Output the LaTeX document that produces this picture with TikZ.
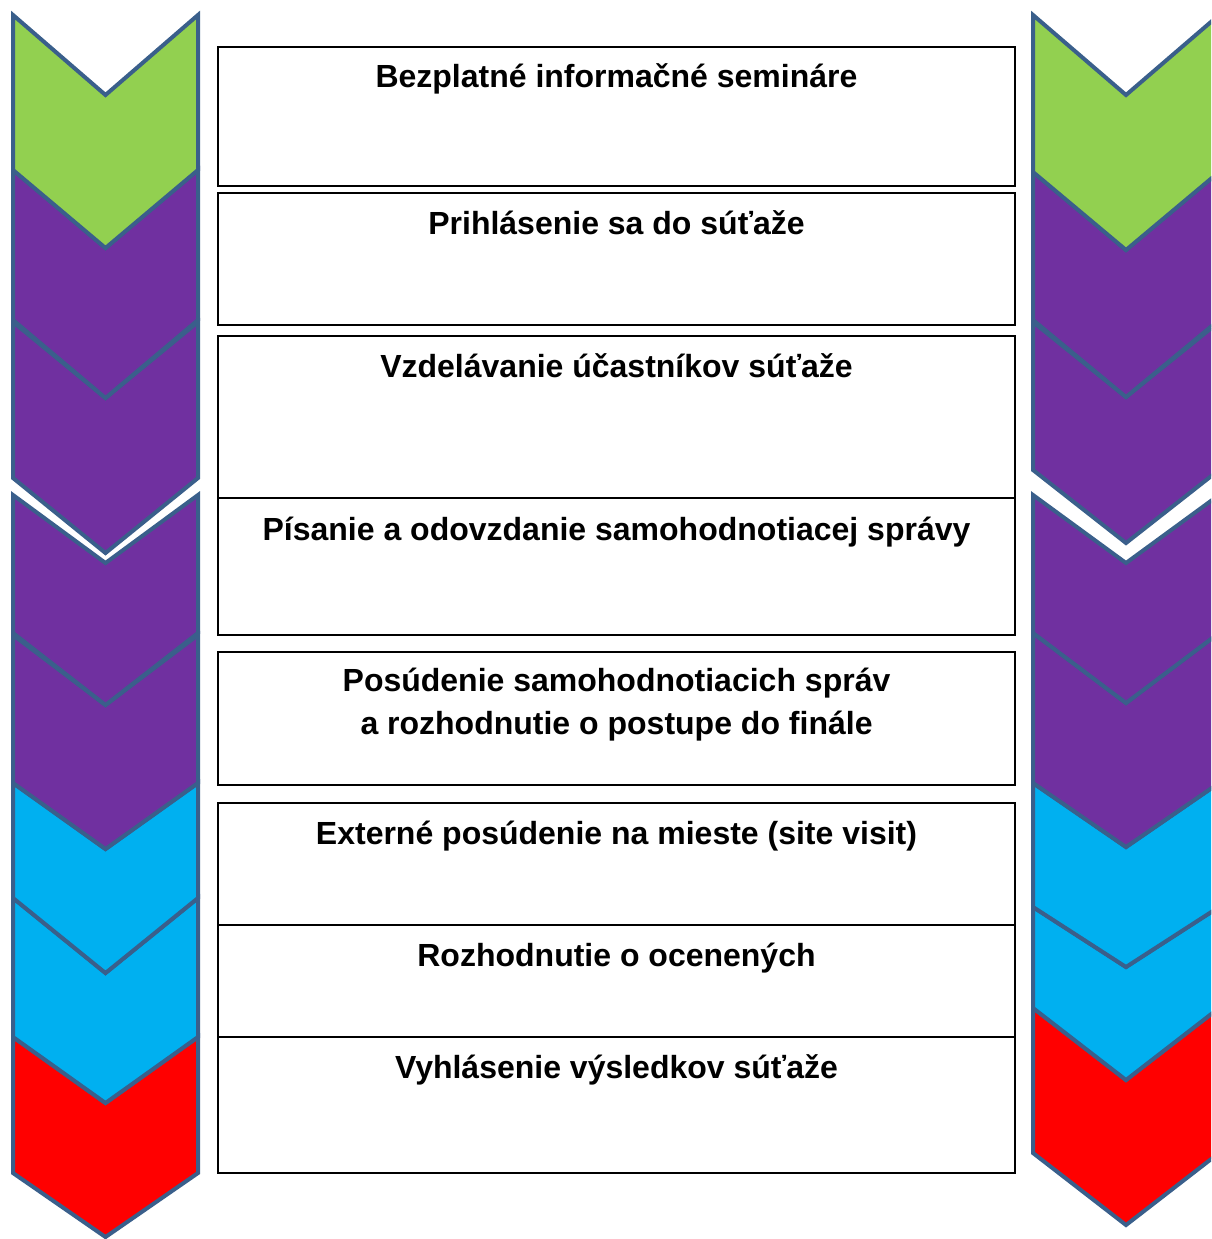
\documentclass[tikz,border=0pt]{standalone}
\usepackage{fontspec}
\setmainfont{Liberation Sans}
\usepackage{xcolor}
\usetikzlibrary{calc}

\definecolor{edgeblue}{HTML}{3A5F8B}
\definecolor{stepgreen}{HTML}{92D050}
\definecolor{steppurple}{HTML}{7030A0}
\definecolor{stepcyan}{HTML}{00B0F0}
\definecolor{stepred}{HTML}{FF0000}

\tikzset{
    chevron/.style={draw=edgeblue, line width=4pt, line join=miter},
    stagebox/.style={draw=black, line width=1.8pt},
    stagelabel/.style={anchor=base, align=center, font=\fontsize{32}{43}\selectfont\bfseries}
}

% left x, right x, top, bottom, notch depth, tip depth, fill
\newcommand{\chev}[7]{%
    \filldraw[chevron, fill=#7] (#1,#3) -- ({(#1+#2)/2},#3+#5) -- (#2,#3)
        -- (#2,#4) -- ({(#1+#2)/2},#4+#6) -- (#1,#4) -- cycle;}

\begin{document}
\begin{tikzpicture}[x=1pt, y=-1pt]
            \useasboundingbox (0,0) rectangle (1211,1239);
            \clip (0,0) rectangle (1211,1239);

            % left arrow column, drawn from the bottom up
            \foreach \t/\b/\n/\d/\c in {1037/1173/66/64/stepred, 898/1037/75/66/stepcyan,
                    783/898/66/75/stepcyan, 635/783/70/66/steppurple, 495/633/68/72/steppurple,
                    322/478/76/75/steppurple, 170/320/78/78/steppurple, 15/170/80/78/stepgreen}
                {\chev{13}{198}{\t}{\b}{\n}{\d}{\c}}

            % right arrow column
            \foreach \t/\b/\n/\d/\c in {1008/1153/72/72/stepred, 907/1008/60/72/stepcyan,
                    783/907/64/60/stepcyan, 633/783/70/64/steppurple, 495/633/68/70/steppurple,
                    322/470/75/73/steppurple, 172/320/78/77/steppurple, 15/172/80/78/stepgreen}
                {\chev{1033}{1219}{\t}{\b}{\n}{\d}{\c}}

            % stages
            \draw[stagebox] (218,47) rectangle (1015,186);
            \draw[stagebox] (218,193) rectangle (1015,325);
            \draw[stagebox] (218,336) rectangle (1015,498);
            \draw[stagebox] (218,498) rectangle (1015,635);
            \draw[stagebox] (218,652) rectangle (1015,785);
            \draw[stagebox] (218,803) rectangle (1015,925);
            \draw[stagebox] (218,925) rectangle (1015,1037);
            \draw[stagebox] (218,1037) rectangle (1015,1173);

            \node[stagelabel] (seminar) at (616.5,88) {Bezplatné informačné semináre};
            \node[stagelabel] (signup) at (616.5,234) {Prihlásenie sa do súťaže};
            \node[stagelabel] (training) at (616.5,377) {Vzdelávanie účastníkov súťaže};
            \node[stagelabel] (report) at (616.5,540) {Písanie a odovzdanie samohodnotiacej správy};
            \node[stagelabel, anchor=north] (review) at (616.5,664) {Posúdenie samohodnotiacich správ\\a rozhodnutie o postupe do finále};
            \node[stagelabel] (visit) at (616.5,844) {Externé posúdenie na mieste (site visit)};
            \node[stagelabel] (awards) at (616.5,966) {Rozhodnutie o ocenených};
            \node[stagelabel] (results) at (616.5,1078) {Vyhlásenie výsledkov súťaže};
        \end{tikzpicture}
\end{document}
